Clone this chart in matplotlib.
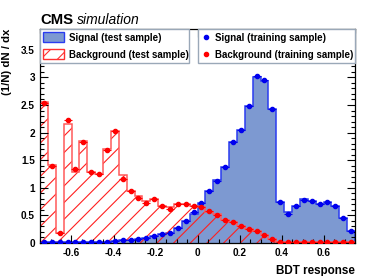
import numpy as np
import matplotlib
matplotlib.use("Agg")
import matplotlib.pyplot as plt
from matplotlib.patches import Patch
from matplotlib.lines import Line2D
from matplotlib.ticker import MultipleLocator, FuncFormatter

plt.rcParams['font.family'] = ['Liberation Sans', 'DejaVu Sans']
plt.rcParams['axes.unicode_minus'] = False
plt.rcParams['hatch.linewidth'] = 0.8

# BDT output range, 40 bins
x_lo, x_hi, n_bins = -0.75, 0.75, 40

# signal, test sample (filled histogram)
sig_test = [0.005, 0.005, 0.005, 0.005, 0.005, 0.005, 0.008, 0.01, 0.02, 0.03,
            0.04, 0.05, 0.06, 0.08, 0.12, 0.15, 0.17, 0.26, 0.40, 0.53,
            0.72, 0.93, 1.13, 1.37, 1.83, 2.04, 2.48, 3.01, 2.94, 2.42,
            0.73, 0.55, 0.67, 0.79, 0.75, 0.70, 0.73, 0.67, 0.44, 0.22]
# background, test sample (hatched histogram)
bkg_test = [2.55, 1.41, 0.18, 2.15, 1.29, 1.84, 1.29, 1.25, 1.70, 2.03,
            1.23, 0.94, 0.84, 0.75, 0.79, 0.67, 0.64, 0.70, 0.70, 0.67,
            0.65, 0.56, 0.52, 0.41, 0.38, 0.31, 0.25, 0.21, 0.145, 0.07,
            0.02, 0.01, 0.01, 0.01, 0.01, 0.01, 0.01, 0.01, 0.01, 0.01]
# training samples (points)
sig_train = [0.005, 0.005, 0.005, 0.005, 0.005, 0.005, 0.008, 0.01, 0.02, 0.03,
             0.04, 0.05, 0.06, 0.08, 0.12, 0.15, 0.17, 0.26, 0.40, 0.55,
             0.72, 0.93, 1.12, 1.37, 1.83, 2.05, 2.48, 3.02, 2.96, 2.42,
             0.73, 0.52, 0.67, 0.78, 0.75, 0.71, 0.74, 0.67, 0.44, 0.22]
bkg_train = [2.53, 1.40, 0.18, 2.22, 1.33, 1.82, 1.29, 1.25, 1.68, 2.02,
             1.16, 0.94, 0.82, 0.72, 0.79, 0.67, 0.62, 0.70, 0.70, 0.67,
             0.64, 0.58, 0.50, 0.42, 0.38, 0.30, 0.25, 0.21, 0.14, 0.06,
             0.02, 0.01, 0.01, 0.01, 0.01, 0.01, 0.01, 0.01, 0.01, 0.01]

edges = np.linspace(x_lo, x_hi, n_bins + 1)
centers = 0.5 * (edges[:-1] + edges[1:])
half_w = 0.5 * (edges[1] - edges[0])

fig = plt.figure(figsize=(3.74, 2.76), dpi=100)
ax = fig.add_axes([40 / 374, (276 - 242.7) / 276, 315 / 374, (242.7 - 29) / 276])

sig_fill = '#7d99d1'
ax.stairs(sig_test, edges, fill=True, color=sig_fill, zorder=1)
ax.stairs(sig_test, edges, color='#2a3cf0', lw=1.1, zorder=1.1)
ax.stairs(bkg_test, edges, fill=True, facecolor='none', edgecolor='#ff2020',
          linewidth=0, hatch='//', zorder=1.2)
ax.stairs(bkg_test, edges, color='#ff5a5a', lw=1.1, zorder=1.3)

ax.errorbar(centers, sig_train, xerr=half_w, fmt='o', color='#0000ee',
            ms=3, elinewidth=0.8, capsize=0, zorder=3)
ax.errorbar(centers, bkg_train, xerr=half_w, fmt='o', color='#ff0000',
            ms=3, elinewidth=0.8, capsize=0, zorder=3)

ax.set_xlim(x_lo, x_hi)
ax.set_ylim(0, 3.88)
ax.set_axisbelow(False)
ax.xaxis.set_major_locator(MultipleLocator(0.2))
ax.xaxis.set_minor_locator(MultipleLocator(0.05))
ax.yaxis.set_major_locator(MultipleLocator(0.5))
ax.yaxis.set_minor_locator(MultipleLocator(0.1))
ax.yaxis.set_major_formatter(FuncFormatter(lambda v, p: '%g' % v))
ax.xaxis.set_major_formatter(FuncFormatter(lambda v, p: '%g' % round(v, 2)))
ax.tick_params(which='both', direction='in', top=True, right=True,
               width=0.8, labelsize=7.2, pad=3.6)
ax.tick_params(which='major', length=6)
ax.tick_params(which='minor', length=3.2)
for lab in ax.get_xticklabels() + ax.get_yticklabels():
    lab.set_fontweight('bold')
for s in ax.spines.values():
    s.set_linewidth(0.9)

ax.set_xlabel('BDT response', loc='right', fontsize=8.4, fontweight='bold', labelpad=5)
ax.set_ylabel('(1/N) dN / dx', loc='top', fontsize=8.2, fontweight='bold')
ax.yaxis.set_label_coords(-0.088, 1.0)

leg_kw = dict(loc='upper left', mode='expand', borderaxespad=0,
              prop={'weight': 'bold', 'size': 7}, fancybox=False,
              borderpad=0.35, labelspacing=0.7)
h1 = [Patch(facecolor=sig_fill, edgecolor='#2a3cf0', lw=1),
      Patch(facecolor='none', edgecolor='#ff3030', hatch='//', lw=1)]
leg1 = ax.legend(h1, ['Signal (test sample)', 'Background (test sample)'],
                 bbox_to_anchor=(0, 0, 0.473, 1.0), handlelength=2.1,
                 handleheight=1.2, handletextpad=0.5, **leg_kw)
ax.add_artist(leg1)
h2 = [Line2D([], [], marker='o', ls='none', color='#0000ee', ms=3),
      Line2D([], [], marker='o', ls='none', color='#ff0000', ms=3)]
leg2 = ax.legend(h2, ['Signal (training sample)', 'Background (training sample)'],
                 bbox_to_anchor=(0.5016, 0, 0.4984, 1.0), handlelength=1.0,
                 handleheight=1.2, handletextpad=0.4, **leg_kw)
for lg in (leg1, leg2):
    fr = lg.get_frame()
    fr.set_edgecolor('#9aa8b8')
    fr.set_linewidth(1.0)
    fr.set_facecolor('white')
    fr.set_alpha(1)

fig.text(40 / 374, (276 - 24) / 276, 'CMS', fontsize=10.7, fontweight='bold',
         va='baseline', ha='left')
fig.text(77 / 374, (276 - 24) / 276, 'simulation', fontsize=10, style='italic',
         va='baseline', ha='left')

fig.savefig('out.png', dpi=100)
